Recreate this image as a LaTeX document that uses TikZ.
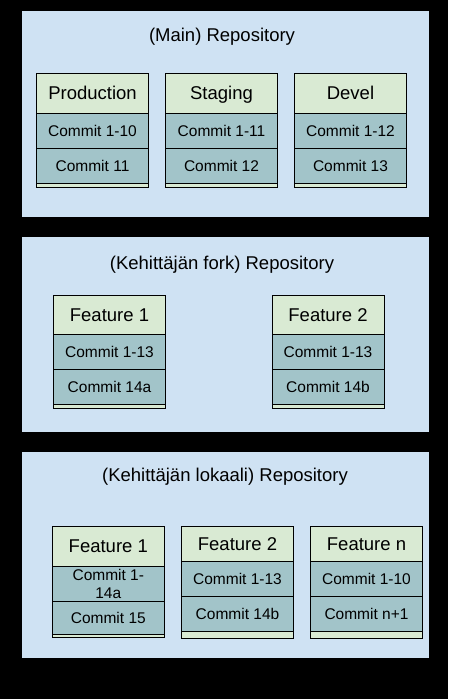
\documentclass[tikz,border=0pt]{standalone}
\usepackage{fontspec}
\setmainfont{Liberation Sans}
\usetikzlibrary{positioning}
\definecolor{repoblue}{HTML}{CFE2F3}
\definecolor{headgreen}{HTML}{D9EAD3}
\definecolor{committeal}{HTML}{A2C4C9}

\begin{document}
\begin{tikzpicture}[x=1pt,y=-1pt,
  repo/.style={fill=repoblue,minimum width=407pt,inner sep=0pt},
  repotitle/.style={font=\fontsize{18.5}{22}\selectfont},
  head/.style={draw,fill=headgreen,minimum width=112pt,minimum height=40pt,inner sep=0pt,outer sep=0pt,line width=0.8pt,text height=13pt,text depth=0pt,font=\fontsize{18.5}{22}\selectfont},
  commit/.style={draw,fill=committeal,minimum width=112pt,minimum height=35pt,inner sep=0pt,outer sep=0pt,line width=0.8pt,align=center,text height=11pt,text depth=0pt,font=\fontsize{15.5}{18}\selectfont},
  tail/.style={draw,fill=headgreen,minimum width=112pt,minimum height=4pt,inner sep=0pt,outer sep=0pt,line width=0.8pt}]
\fill[black] (0,0) rectangle (448,699);
\useasboundingbox (0,0) rectangle (448,699);
% the three repositories
\node[repo,minimum height=206pt] (main) at (225.5,114) {};
\node[repo,minimum height=195pt] (fork) at (225.5,334.5) {};
\node[repo,minimum height=206pt] (local) at (225.5,555) {};
\node[repotitle] (maint) at (222,37) {(Main) Repository};
\node[repotitle] (forkt) at (222,265) {(Kehittäjän fork) Repository};
\node[repotitle] (localt) at (225,477) {(Kehittäjän lokaali) Repository};
% main branches
\node[head] (prod) at (92.5,93) {Production};
\node[commit,below=0pt of prod] (prod1) {Commit 1-10};
\node[commit,below=0pt of prod1] (prod2) {Commit 11};
\node[tail,below=0pt of prod2] (prodend) {};
\node[head] (stag) at (221.5,93) {Staging};
\node[commit,below=0pt of stag] (stag1) {Commit 1-11};
\node[commit,below=0pt of stag1] (stag2) {Commit 12};
\node[tail,below=0pt of stag2] (stagend) {};
\node[head] (devel) at (350.5,93) {Devel};
\node[commit,below=0pt of devel] (devel1) {Commit 1-12};
\node[commit,below=0pt of devel1] (devel2) {Commit 13};
\node[tail,below=0pt of devel2] (develend) {};
% fork branches
\node[head,minimum height=39pt] (ffeat1) at (109.5,314.5) {Feature 1};
\node[commit,below=0pt of ffeat1] (ffeat11) {Commit 1-13};
\node[commit,below=0pt of ffeat11] (ffeat12) {Commit 14a};
\node[tail,below=0pt of ffeat12] (ffeat1end) {};
\node[head,minimum height=39pt] (ffeat2) at (328,314.5) {Feature 2};
\node[commit,below=0pt of ffeat2] (ffeat21) {Commit 1-13};
\node[commit,below=0pt of ffeat21] (ffeat22) {Commit 14b};
\node[tail,below=0pt of ffeat22] (ffeat2end) {};
% local branches
\node[head] (lfeat1) at (108.3,546) {Feature 1};
\node[commit,below=0pt of lfeat1,text height=29pt] (lfeat11) {Commit 1-\\14a};
\node[commit,below=0pt of lfeat11,minimum height=33pt] (lfeat12) {Commit 15};
\node[tail,below=0pt of lfeat12,minimum height=3pt] (lfeat1end) {};
\node[head,minimum height=35pt] (lfeat2) at (237.5,543.5) {Feature 2};
\node[commit,below=0pt of lfeat2] (lfeat21) {Commit 1-13};
\node[commit,below=0pt of lfeat21] (lfeat22) {Commit 14b};
\node[tail,below=0pt of lfeat22,minimum height=7pt] (lfeat2end) {};
\node[head,minimum height=35pt] (lfeatn) at (366.5,543.5) {Feature n};
\node[commit,below=0pt of lfeatn] (lfeatn1) {Commit 1-10};
\node[commit,below=0pt of lfeatn1] (lfeatn2) {Commit n+1};
\node[tail,below=0pt of lfeatn2,minimum height=7pt] (lfeatnend) {};
\end{tikzpicture}
\end{document}
